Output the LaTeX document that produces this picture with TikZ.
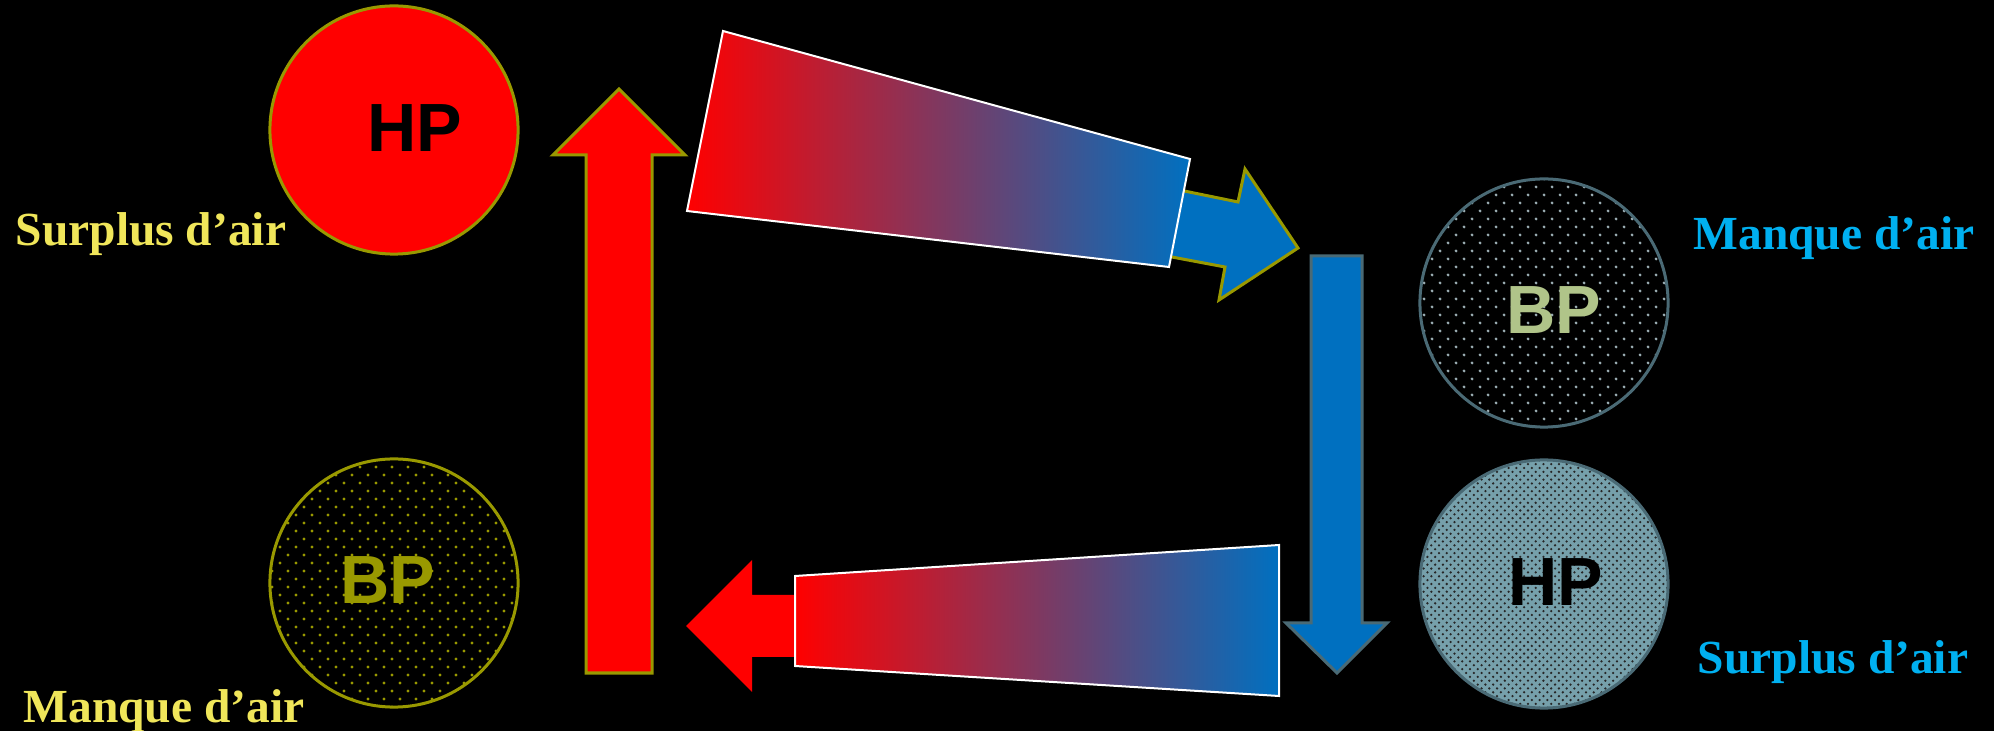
\documentclass[tikz,border=0pt]{standalone}
\usepackage{fontspec}
\setmainfont{Liberation Serif}
\newfontfamily\tankfont{Liberation Sans}
\usetikzlibrary{patterns.meta}

\definecolor{airyellow}{HTML}{F0E65A}
\definecolor{airblue}{HTML}{00B0F0}
\definecolor{oliveedge}{HTML}{999900}
\definecolor{slateedge}{HTML}{4A6A75}
\definecolor{flowblue}{HTML}{0070C0}
\definecolor{bpgreen}{HTML}{B0C489}
\definecolor{hpteal}{HTML}{76A0AB}

% pointilles des reservoirs
\tikzdeclarepattern{
  name=sparsedots, type=uncolored,
  bounding box={(-0.6pt,-0.6pt) and (2.9pt,2.9pt)},
  tile size={(4.55pt,4.55pt)},
  code={
    \fill (0pt,0pt) circle (0.45pt);
    \fill (2.275pt,2.275pt) circle (0.45pt);
  }
}
\tikzdeclarepattern{
  name=densedots, type=uncolored,
  bounding box={(-0.5pt,-0.5pt) and (1.6pt,1.6pt)},
  tile size={(2.2pt,2.2pt)},
  code={
    \fill (0pt,0pt) circle (0.36pt);
    \fill (1.1pt,1.1pt) circle (0.36pt);
  }
}

\begin{document}
\begin{tikzpicture}[x=0.01cm, y=-0.01cm,
    tank/.style={circle, minimum size=2.48cm, inner sep=0pt, line width=0.03cm},
    tanklabel/.style={font=\tankfont\bfseries\fontsize{19.4pt}{20pt}\selectfont, inner sep=0pt},
    airlabel/.style={font=\bfseries\fontsize{13.5pt}{16pt}\selectfont, anchor=base, inner sep=0pt}]
        % --- fond ---
        \useasboundingbox (0,0) rectangle (1994,731);
        \fill[black] (0,0) rectangle (1994,731);

        % --- reservoirs ---
        \node[tank, draw=oliveedge, fill=red] (hpL) at (394,130) {};
        \node[tank, draw=oliveedge, preaction={fill=black},
              preaction={pattern=sparsedots, pattern color=oliveedge}] (bpL) at (394,583) {};
        \node[tank, draw=slateedge, preaction={fill=black},
              preaction={pattern=sparsedots, pattern color=slateedge!55!white}] (bpR) at (1544,303) {};
        \node[tank, draw=slateedge, preaction={fill=hpteal},
              preaction={pattern=densedots, pattern color=black!85}] (hpR) at (1544,584) {};

        \node[tanklabel, text=black] (hpLtxt) at (415,128) {HP};
        \node[tanklabel, text=oliveedge] (bpLtxt) at (388,580) {BP};
        \node[tanklabel, text=bpgreen] (bpRtxt) at (1554,310) {BP};
        \node[tanklabel, text=black] (hpRtxt) at (1556,582) {HP};

        % --- textes ---
        \node[airlabel, text=airyellow] (surplusL) at (151,246) {Surplus d’air};
        \node[airlabel, text=airyellow] (manqueL) at (164,722) {Manque d’air};
        \node[airlabel, text=airblue] (manqueR) at (1834,250) {Manque d’air};
        \node[airlabel, text=airblue] (surplusR) at (1833,673) {Surplus d’air};

        % --- fleche montante ---
        \draw[fill=red, draw=oliveedge, line width=0.03cm, line join=miter]
            (586,673) -- (586,155) -- (553,155) -- (619,89) -- (685,155)
            -- (652,155) -- (652,673) -- cycle;

        % --- passage haut : HP vers BP ---
        \draw[fill=flowblue, draw=oliveedge, line width=0.03cm, line join=miter]
            (1150,184) -- (1238,202) -- (1245,169) -- (1298,248) -- (1219,300)
            -- (1225,267) -- (1140,251) -- cycle;
        \shadedraw[left color=red, right color=flowblue, draw=white, line width=0.02cm]
            (723,31) -- (1190,159) -- (1169,267) -- (687,211) -- cycle;

        % --- fleche descendante ---
        \draw[fill=flowblue, draw=slateedge, line width=0.03cm, line join=miter]
            (1311,256) -- (1362,256) -- (1362,623) -- (1387,623) -- (1337,673)
            -- (1286,623) -- (1311,623) -- cycle;

        % --- passage bas : retour ---
        \fill[red] (800,595) -- (752,595) -- (752,560) -- (686,626) -- (752,692)
            -- (752,657) -- (800,657) -- cycle;
        \shadedraw[left color=red, right color=flowblue, draw=white, line width=0.02cm]
            (795,576) -- (1279,545) -- (1279,696) -- (795,666) -- cycle;

\end{tikzpicture}
\end{document}
